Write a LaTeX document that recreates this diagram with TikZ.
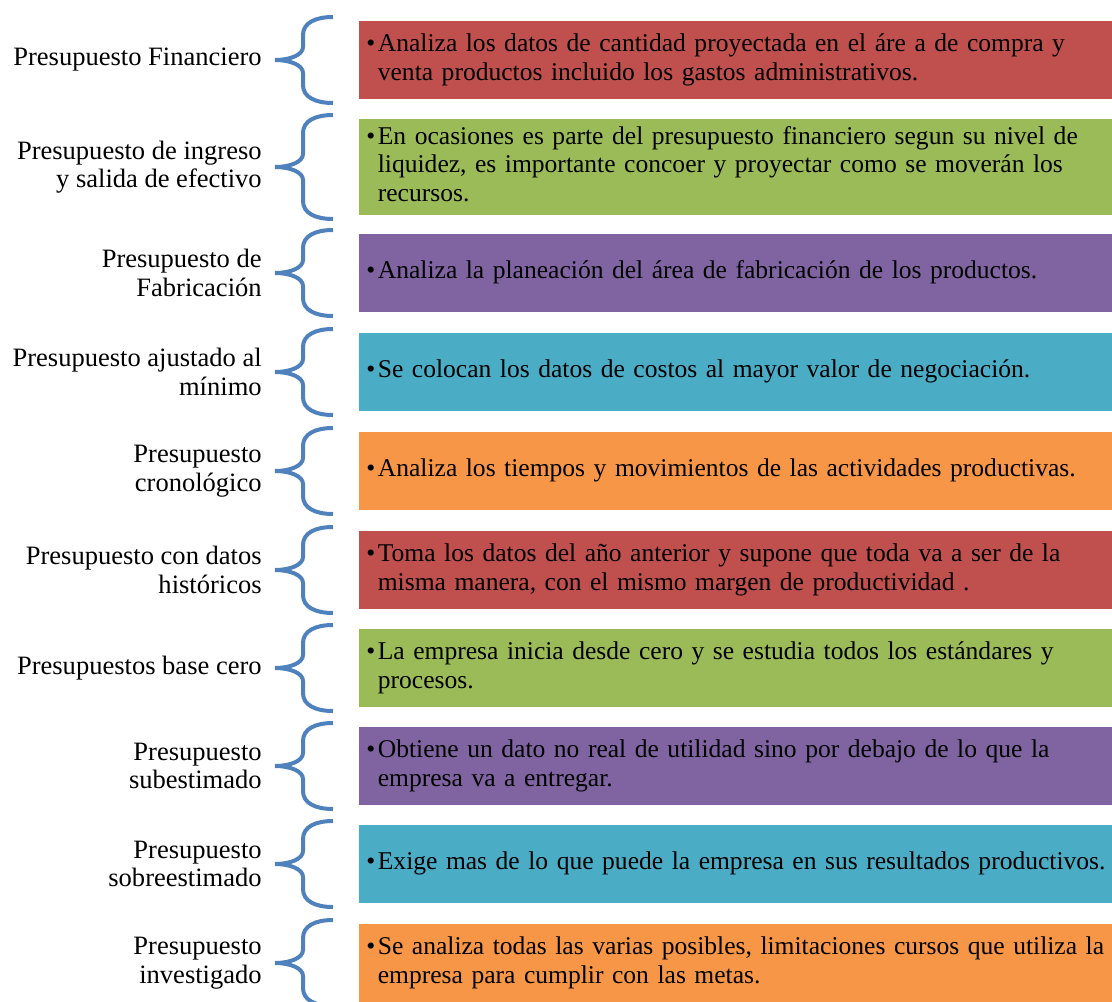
\documentclass[tikz,border=0pt]{standalone}
\usepackage{fontspec}
\setmainfont{Liberation Serif}
\usetikzlibrary{positioning,calc}
\definecolor{rojo}{HTML}{C0504D}
\definecolor{verde}{HTML}{9BBB59}
\definecolor{morado}{HTML}{8064A2}
\definecolor{celeste}{HTML}{4BACC6}
\definecolor{naranja}{HTML}{F79646}
\definecolor{azul}{HTML}{4F81BD}
\newcommand{\punto}[1]{\textbullet\hspace{0.1em}\begin{tabular}[t]{@{}l@{}}#1\end{tabular}}

\begin{document}
\begin{tikzpicture}[x=0.02cm, y=-0.02cm, line join=round,
  caja/.style={fill=#1, anchor=west, minimum width=15.06cm, text width=14.78cm, inner xsep=0.14cm, inner ysep=0pt, align=left, font=\fontsize{14.55}{16.3}\selectfont},
  etiqueta/.style={align=right, inner sep=0pt, font=\fontsize{15.1}{16.2}\selectfont},
  llave/.style={azul, line width=0.08cm}]
\useasboundingbox (0,0) rectangle (1112,1001);
% filas: centro / media llave / alto caja / color / tipo / descripcion
\foreach \c/\h/\alto/\col/\etq/\txt [count=\i] in {
  60/43/1.56/rojo/{Presupuesto Financiero}/{Analiza los datos de cantidad proyectada en el áre a de compra y\\venta productos incluido los gastos administrativos.},
  167/52/1.92/verde/{Presupuesto de ingreso\\y salida de efectivo}/{En ocasiones es parte del presupuesto financiero segun su nivel de\\liquidez, es importante concoer y proyectar como se moverán los\\recursos.},
  273/43/1.56/morado/{Presupuesto de\\Fabricación}/{Analiza la planeación del área de fabricación de los productos.},
  372/43/1.56/celeste/{Presupuesto ajustado al\\mínimo}/{Se colocan los datos de costos al mayor valor de negociación.},
  471/43/1.56/naranja/{Presupuesto\\cronológico}/{Analiza los tiempos y movimientos de las actividades productivas.},
  570/43/1.56/rojo/{Presupuesto con datos\\históricos}/{Toma los datos del año anterior y supone que toda va a ser de la\\misma manera, con el mismo margen de productividad .},
  668/43/1.56/verde/{Presupuestos base cero}/{La empresa inicia desde cero y se estudia todos los estándares y\\procesos.},
  766/43/1.56/morado/{Presupuesto\\subestimado}/{Obtiene un dato no real de utilidad sino por debajo de lo que la\\empresa va a entregar.},
  864/43/1.56/celeste/{Presupuesto\\sobreestimado}/{Exige mas de lo que puede la empresa en sus resultados productivos.},
  963/43/1.56/naranja/{Presupuesto\\investigado}/{Se analiza todas las varias posibles, limitaciones cursos que utiliza la\\empresa para cumplir con las metas.}}
{
  \node[caja=\col, minimum height=\alto cm] (caja\i) at (359,\c) {\punto{\txt}};
  \coordinate (pico\i) at ($(caja\i.west)+(-84,0)$);
  \draw[llave] (pico\i) .. controls +(15,0) and +(0,8) .. ++(28,-13) -- ++(0,{-(\h-31)}) .. controls +(0,-12) and +(-18,0) .. ++(30,-18)
               (pico\i) .. controls +(15,0) and +(0,-8) .. ++(28,13) -- ++(0,{\h-31}) .. controls +(0,12) and +(-18,0) .. ++(30,18);
  \node[etiqueta, left=0.26cm of pico\i] (etq\i) {\etq};
}
\end{tikzpicture}
\end{document}
